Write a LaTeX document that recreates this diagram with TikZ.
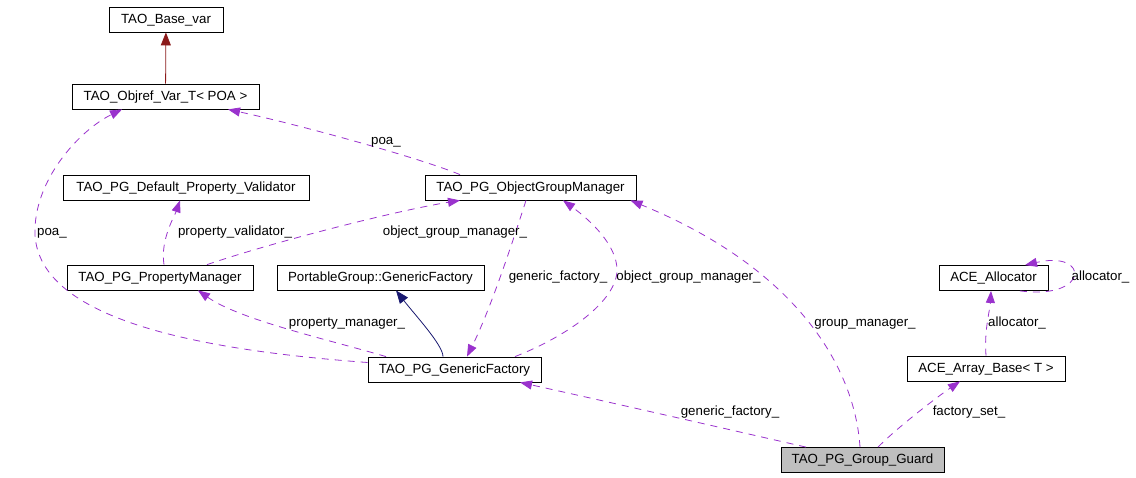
\documentclass[tikz,border=0pt]{standalone}
\usepackage{fontspec}
\setmainfont{Liberation Sans}
\usetikzlibrary{arrows.meta}
\definecolor{usepurple}{HTML}{9A32CD}
\definecolor{inhred}{HTML}{8B1A1A}
\definecolor{inhblue}{HTML}{191970}
\definecolor{guardgray}{HTML}{BFBFBF}
\begin{document}
\begin{tikzpicture}[x=1pt,y=-1pt,
    cls/.style={draw,line width=0.8pt,inner sep=0pt,minimum height=25pt,
      text height=10pt,text depth=3pt,font=\fontsize{13.3}{16}\selectfont},
    lbl/.style={inner sep=0pt,text height=10pt,text depth=3pt,
      font=\fontsize{13.3}{16}\selectfont},
    uses/.style={usepurple,line width=0.8pt,dash pattern=on 7pt off 6pt,
      -{Triangle[length=12pt,width=9pt,sep=0pt]}},
    inherit/.style={line width=0.8pt,-{Triangle[length=13pt,width=10pt]}}]
      \useasboundingbox (0,0) rectangle (1136,477);
      % classes
      \node[cls,minimum width=114pt] (basevar) at (166,19.5) {TAO\_Base\_var};
      \node[cls,minimum width=187pt] (objref) at (165.5,96.5) {TAO\_Objref\_Var\_T< POA >};
      \node[cls,minimum width=246pt] (validator) at (186,187.5) {TAO\_PG\_Default\_Property\_Validator};
      \node[cls,minimum width=211pt] (pgom) at (530.5,187.5) {TAO\_PG\_ObjectGroupManager};
      \node[cls,minimum width=186pt] (propmgr) at (160,277.5) {TAO\_PG\_PropertyManager};
      \node[cls,minimum width=207pt] (pgfact) at (380.5,277.5) {PortableGroup::GenericFactory};
      \node[cls,minimum width=173pt] (genfact) at (454.5,369.5) {TAO\_PG\_GenericFactory};
      \node[cls,minimum width=109pt] (allocator) at (993.5,278) {ACE\_Allocator};
      \node[cls,minimum width=158pt] (arraybase) at (986,368.5) {ACE\_Array\_Base< T >};
      \node[cls,fill=guardgray,minimum width=163pt] (guard) at (862.5,460) {TAO\_PG\_Group\_Guard};
      % inheritance
      \draw[inherit,inhred] (objref) -- (basevar);
      \draw[inherit,inhblue] ([xshift=-11.5pt]genfact.north) .. controls (443,345) and (415,315) .. ([xshift=15.5pt]pgfact.south);
      % usage
      \draw[uses] ([xshift=-70.5pt]pgom.north) .. controls (420,158) and (300,125) .. ([xshift=62.5pt]objref.south);
      \draw[uses] ([yshift=7pt]genfact.west) .. controls (200,350) and (40,320) .. (35,235)
        .. controls (33,180) and (80,130) .. ([xshift=-43.5pt]objref.south);
      \draw[uses] ([xshift=4pt]propmgr.north) .. controls (160,240) and (175,215) .. ([xshift=-6pt]validator.south);
      \draw[uses] ([xshift=47pt]propmgr.north) .. controls (280,240) and (400,210) .. ([xshift=-70.5pt]pgom.south);
      \draw[uses] ([xshift=-68.5pt]genfact.north) .. controls (330,340) and (240,320) .. ([xshift=38pt]propmgr.south);
      \draw[uses] ([xshift=-4.5pt]pgom.south) .. controls (510,250) and (490,310) .. ([xshift=12.5pt]genfact.north);
      \draw[uses] ([xshift=60.5pt]genfact.north) .. controls (570,335) and (617,300) .. (617,270)
        .. controls (617,245) and (590,220) .. ([xshift=32.5pt]pgom.south);
      \draw[uses] ([xshift=-2.5pt]guard.north) .. controls (855,370) and (800,270) .. ([xshift=100pt]pgom.south);
      \draw[uses] ([xshift=-56.5pt]guard.north) .. controls (740,432) and (600,400) .. ([xshift=65.5pt]genfact.south);
      \draw[uses] ([xshift=15.5pt]guard.north) .. controls (900,425) and (940,395) .. ([xshift=-26pt]arraybase.south);
      \draw[uses] (arraybase.north) .. controls (984,330) and (990,310) .. ([xshift=-2.5pt]allocator.south);
      \draw[uses] ([xshift=26.5pt]allocator.south) .. controls (1090,300) and (1090,250) .. ([xshift=31.5pt]allocator.north);
      % labels
      \node[lbl] (lpoatop) at (386,141) {poa\_};
      \node[lbl] (lpoaleft) at (52,232) {poa\_};
      \node[lbl] (lpropval) at (235,232) {property\_validator\_};
      \node[lbl] (logmleft) at (455,232) {object\_group\_manager\_};
      \node[lbl] (lgenfactup) at (558,277) {generic\_factory\_};
      \node[lbl] (logmright) at (688.5,277) {object\_group\_manager\_};
      \node[lbl] (lpropmgr) at (347,323) {property\_manager\_};
      \node[lbl] (lgroupmgr) at (865,323) {group\_manager\_};
      \node[lbl] (lallocself) at (1100.5,277) {allocator\_};
      \node[lbl] (lalloc) at (1017,323) {allocator\_};
      \node[lbl] (lgenfactlow) at (730,412) {generic\_factory\_};
      \node[lbl] (lfactset) at (969,412) {factory\_set\_};
\end{tikzpicture}
\end{document}
